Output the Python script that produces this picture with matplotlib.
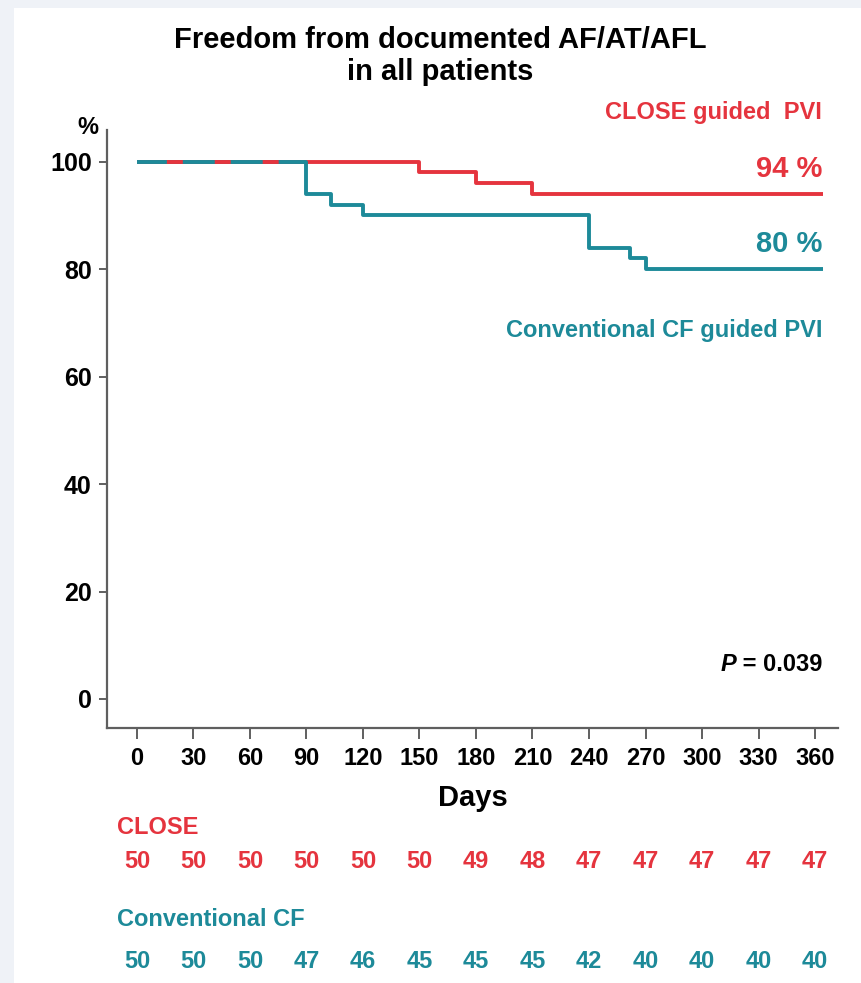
import numpy as np
import matplotlib
matplotlib.use("Agg")
import matplotlib.pyplot as plt
from matplotlib.patches import Rectangle
from matplotlib.transforms import blended_transform_factory

plt.rcParams['font.family'] = ['Liberation Sans', 'DejaVu Sans']
plt.rcParams['font.weight'] = 'bold'
plt.rcParams['axes.labelweight'] = 'bold'
plt.rcParams['lines.scale_dashes'] = False

RED = '#e5343e'
TEAL = '#1d8a99'
AXIS = '#5f5f5f'

# Kaplan-Meier steps (day of event, survival % after it)
close_days = [0, 150, 180, 210, 364]
close_surv = [100, 98, 96, 94, 94]
conv_days = [0, 90, 103, 120, 240, 262, 270, 364]
conv_surv = [100, 94, 92, 90, 84, 82, 80, 80]

day_ticks = [0, 30, 60, 90, 120, 150, 180, 210, 240, 270, 300, 330, 360]
pct_ticks = [0, 20, 40, 60, 80, 100]
close_risk = [50, 50, 50, 50, 50, 50, 49, 48, 47, 47, 47, 47, 47]
conv_risk = [50, 50, 50, 47, 46, 45, 45, 45, 42, 40, 40, 40, 40]

fig = plt.figure(figsize=(8.62, 9.83), dpi=100)
fig.patch.set_facecolor('#eff2f7')
fig.patches.append(Rectangle((14 / 862, 0), 1, 1 - 8 / 983, transform=fig.transFigure,
                             facecolor='white', edgecolor='none', zorder=-10))

ax = fig.add_axes([107 / 862, 255 / 983, 731 / 862, 598 / 983])
ax.set_facecolor('none')
ax.set_xlim(-15.9, 372.2)
ax.set_ylim(-5.4, 105.9)

lw = 2.8
ax.step(close_days, close_surv, where='post', color=RED, lw=lw, solid_capstyle='butt', zorder=3)
ax.step(conv_days, conv_surv, where='post', color=TEAL, lw=lw, solid_capstyle='butt', zorder=4)
# both curves overlap until the first event: red dashes drawn over the teal
ax.plot([0, 90], [100, 100], color=RED, lw=lw, dash_capstyle='butt',
        ls=(13.0, (11.5, 23.0)), zorder=5)

for s in ['top', 'right']:
    ax.spines[s].set_visible(False)
for s in ['left', 'bottom']:
    ax.spines[s].set_color(AXIS)
    ax.spines[s].set_linewidth(1.6)

ax.set_yticks(pct_ticks)
ax.set_xticks(day_ticks)
ax.tick_params(axis='y', length=6, width=1.4, color=AXIS, labelsize=18, pad=5)
ax.tick_params(axis='x', length=8, width=1.4, color=AXIS, labelsize=17, pad=6)
for lab in ax.get_xticklabels() + ax.get_yticklabels():
    lab.set_fontweight('bold')

fig.text(88 / 862, 1 - 128 / 983, '%', ha='center', va='center', fontsize=17)
ax.set_xlabel('Days', fontsize=21, labelpad=10)

fig.text(440 / 862, 1 - 40 / 983, 'Freedom from documented AF/AT/AFL', ha='center',
         va='center', fontsize=21)
fig.text(440 / 862, 1 - 72 / 983, 'in all patients', ha='center', va='center', fontsize=21)

fig.text(822 / 862, 1 - 113 / 983, 'CLOSE guided  PVI', ha='right', va='center',
         color=RED, fontsize=17)
ax.text(364, 94 + 2.0, '94 %', ha='right', va='bottom', color=RED, fontsize=21)
ax.text(364, 80 + 2.0, '80 %', ha='right', va='bottom', color=TEAL, fontsize=21)
ax.text(364, 68.5, 'Conventional CF guided PVI', ha='right', va='center', color=TEAL,
        fontsize=17)
pval = ax.text(364, 6.5, ' = 0.039', ha='right', va='center', fontsize=17)
ax.annotate('P', xy=(0, 0.5), xycoords=pval, ha='right', va='center', fontsize=17,
            style='italic', fontweight='bold')

# numbers at risk
tr = blended_transform_factory(ax.transData, fig.transFigure)
fig.text(117 / 862, 1 - 828 / 983, 'CLOSE', ha='left', va='center', color=RED, fontsize=17)
fig.text(117 / 862, 1 - 920 / 983, 'Conventional CF', ha='left', va='center', color=TEAL,
         fontsize=17)
for d, n in zip(day_ticks, close_risk):
    ax.text(d, 1 - 862 / 983, str(n), transform=tr, ha='center', va='center', color=RED,
            fontsize=17)
for d, n in zip(day_ticks, conv_risk):
    ax.text(d, 1 - 962 / 983, str(n), transform=tr, ha='center', va='center', color=TEAL,
            fontsize=17)

fig.savefig('out.png', dpi=100)
